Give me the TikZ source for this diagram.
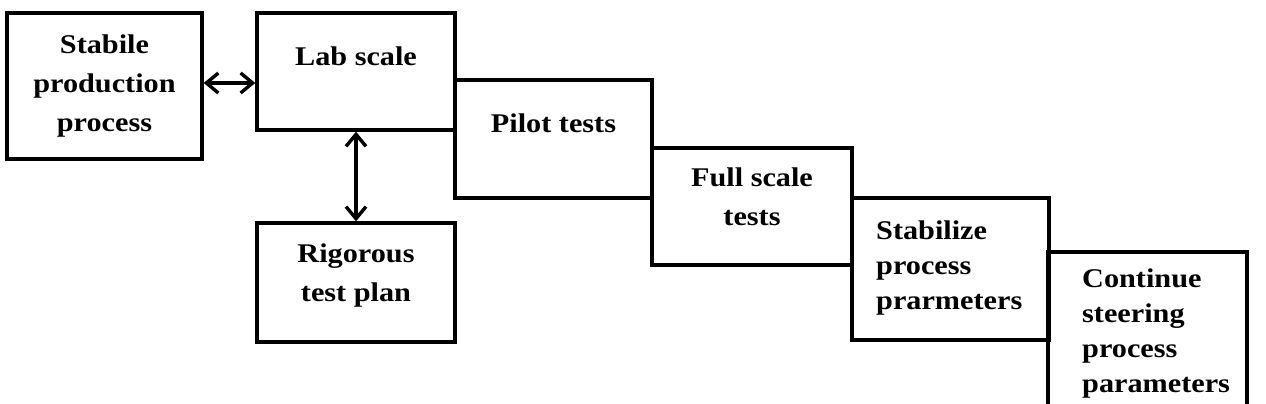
\documentclass[tikz,border=0pt]{standalone}
\usepackage{fontspec}
\setmainfont{Liberation Serif}[FakeStretch=1.12]
\usetikzlibrary{arrows.meta}
\begin{document}
\begin{tikzpicture}[x=1pt,y=1pt,
  box/.style={draw=black, line width=3.4pt, rectangle, inner sep=0pt},
  txt/.style={inner sep=0pt, anchor=base, font=\fontsize{27}{39}\selectfont\bfseries},
  txtl/.style={inner sep=0pt, anchor=base west, align=left, font=\fontsize{27}{35}\selectfont\bfseries},
  dblarrow/.style={line width=3.4pt, {Straight Barb[length=12pt,width=20pt,line width=3.4pt]}-{Straight Barb[length=12pt,width=20pt,line width=3.4pt]}}
]
\useasboundingbox (0,0) rectangle (1266,404);
\clip (0,0) rectangle (1266,404);
% boxes (pixel coords, y flipped)
\node[box, minimum width=195pt, minimum height=146pt] (sp) at (104.5,318) {};
\node[box, minimum width=198pt, minimum height=117pt] (lab) at (356,332.5) {};
\node[box, minimum width=198pt, minimum height=119pt] (rig) at (356,121.5) {};
\node[box, minimum width=197pt, minimum height=118pt] (pil) at (553.5,265) {};
\node[box, minimum width=200pt, minimum height=117pt] (full) at (752,197.5) {};
\node[box, minimum width=197pt, minimum height=142pt] (stab) at (950.5,135) {};
\node[box, minimum width=199pt, minimum height=168pt] (cont) at (1147.5,68) {};
% texts (anchored at the baseline of the last line)
\node[txt, align=center] (tsp) at (104.5,272) {Stabile\\production\\process};
\node[txt] (tlab) at (356,338) {Lab scale};
\node[txt, align=center] (trig) at (356,102) {Rigorous\\test plan};
\node[txt] (tpil) at (553.5,271) {Pilot tests};
\node[txt, align=center] (tfull) at (752,178) {Full scale\\tests};
\node[txtl] (tstab) at (876,94) {Stabilize\\process\\prarmeters};
\node[txtl] (tcont) at (1082,11) {Continue\\steering\\process\\parameters};
% connectors
\draw[dblarrow] (sp.east |- 0,321) -- (lab.west |- 0,321);
\draw[dblarrow] (lab.south) -- (rig.north);
\end{tikzpicture}
\end{document}
